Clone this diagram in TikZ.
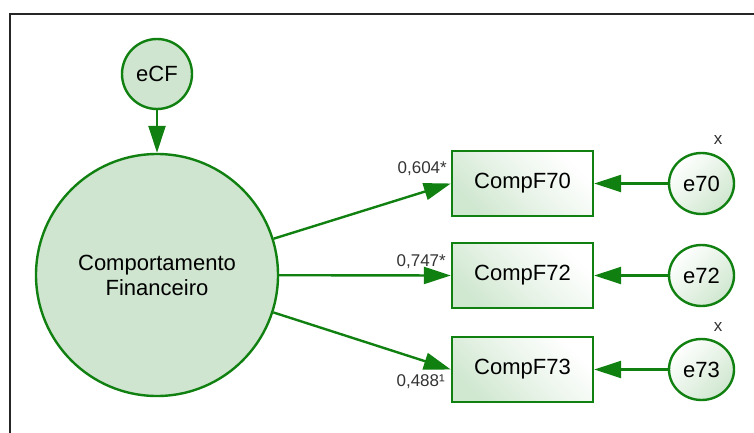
\documentclass[tikz,border=0pt]{standalone}
\usepackage{fontspec}
\setmainfont{Liberation Sans}
\usetikzlibrary{arrows.meta,shapes.geometric}
\definecolor{semgreen}{RGB}{16,128,16}
\definecolor{semfill}{RGB}{207,229,207}
\definecolor{semshade}{RGB}{208,231,208}
\tikzset{
  latent/.style={circle, draw=semgreen, line width=2.4pt, fill=semfill, inner sep=0pt,
    font=\fontsize{22}{25}\selectfont, align=center},
  indicator/.style={rectangle, draw=semgreen, line width=2.4pt, minimum width=141pt,
    minimum height=65pt, inner sep=0pt, font=\fontsize{22}{25}\selectfont,
    top color=white, bottom color=semshade, middle color=white!55!semshade, shading angle=-45},
  errterm/.style={ellipse, draw=semgreen, line width=2.4pt, minimum width=65pt,
    minimum height=61pt, inner sep=0pt, font=\fontsize{22}{25}\selectfont,
    top color=white, bottom color=semshade, shading angle=45},
  path/.style={draw=semgreen, line width=2.4pt, -{Triangle[length=27pt,width=17pt]}},
  coef/.style={font=\fontsize{17}{20}\selectfont, text=black!80, inner sep=0pt, anchor=east},
  mark x/.style={font=\fontsize{17}{20}\selectfont, text=black!80, inner sep=0pt}
}
\begin{document}
\begin{tikzpicture}[x=1pt, y=1pt]
  \useasboundingbox (0,0) rectangle (754,432);
  % open frame
  \draw[line width=2pt, black!85] (10.3,-2) -- (10.3,417.7) -- (756,417.7);

  % latent factor and its disturbance
  \node[latent, minimum size=242pt] (cf) at (157,157) {Comportamento\\Financeiro};
  \node[latent, minimum size=70pt] (ecf) at (157,358) {eCF};

  % observed indicators
  \node[indicator] (c70) at (522.5,248.5) {CompF70};
  \node[indicator] (c72) at (522.5,156.5) {CompF72};
  \node[indicator] (c73) at (522.5,62.5) {CompF73};

  % measurement errors
  \node[errterm] (e70) at (701.5,248.5) {e70};
  \node[errterm] (e72) at (701.5,156.5) {e72};
  \node[errterm] (e73) at (701.5,62.5) {e73};

  % paths
  \draw[path] (ecf) -- (cf);
  \draw[path] (cf) -- (c70.west);
  \draw[path] (cf) -- (c72.west);
  \draw[path] (cf) -- (c73.west);
  \draw[path] (e70) -- (c70);
  \draw[path] (e72) -- (c72);
  \draw[path] (e73) -- (c73);

  % loadings
  \node[coef] (l70) at (447,263) {0,604*};
  \node[coef] (l72) at (446,170) {0,747*};
  \node[coef] (l73) at (445,50) {0,488¹};

  % fixed-error marks
  \node[mark x] (x70) at (718,292) {x};
  \node[mark x] (x73) at (718,105) {x};
\end{tikzpicture}
\end{document}
